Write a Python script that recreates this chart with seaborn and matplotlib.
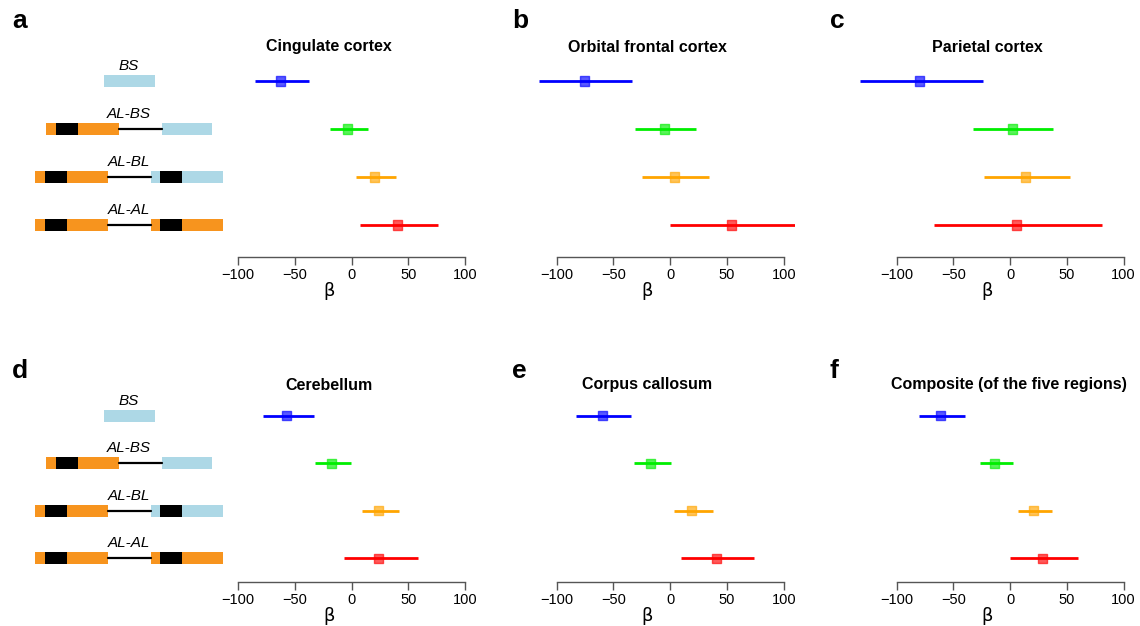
import numpy as np
import pandas as pd
import matplotlib
matplotlib.use("Agg")
import matplotlib.pyplot as plt
import seaborn as sns

sns.set_theme(style="white")
plt.rcParams['font.family'] = ['Liberation Sans', 'DejaVu Sans']
plt.rcParams['text.color'] = 'black'
plt.rcParams['axes.labelcolor'] = 'black'
plt.rcParams['xtick.labelcolor'] = 'black'

# genotypes, top to bottom
genotypes = ["BS", "AL-BS", "AL-BL", "AL-AL"]
point_colors = ["#0000FF", "#00EE00", "#FFA500", "#FF0000"]

regions = ["Cingulate cortex", "Orbital frontal cortex", "Parietal cortex",
           "Cerebellum", "Corpus callosum", "Composite (of the five regions)"]
panel_letters = ["a", "b", "c", "d", "e", "f"]

# beta estimates and 95% CI, one row per region (BS, AL-BS, AL-BL, AL-AL)
beta_est = [[-62.5, -3.8, 20.2, 40.2],
            [-75.6, -5.1, 3.4, 54.2],
            [-79.4, 1.8, 13.8, 5.6],
            [-57.2, -17.6, 23.8, 24.0],
            [-59.8, -17.5, 19.2, 40.4],
            [-61.5, -13.5, 20.6, 28.2]]
ci_low = [[-84.8, -19.1, 4.1, 7.6],
          [-115.6, -31.0, -24.5, 0.1],
          [-131.8, -32.4, -22.9, -66.8],
          [-78.3, -32.3, 9.1, -6.7],
          [-82.7, -32.2, 3.7, 9.5],
          [-80.3, -26.8, 6.8, -0.3]]
ci_high = [[-37.5, 14.7, 39.3, 76.0],
           [-33.3, 23.0, 33.9, 111.2],
           [-24.1, 38.2, 53.2, 80.9],
           [-32.8, -0.9, 41.9, 58.1],
           [-34.2, 0.4, 38.0, 74.0],
           [-39.7, 2.4, 37.4, 60.0]]

ORANGE = "#F7941E"
LBLUE = "#ADD8E6"
# schematic construct blocks: (start, end, colour) in pixel units of the left strip
constructs = {
    "BS": [(104, 155, LBLUE)],
    "AL-BS": [(46, 119, ORANGE), (56, 78, "black"), (162, 212, LBLUE)],
    "AL-BL": [(35, 108, ORANGE), (45, 67, "black"), (151, 223, LBLUE), (160, 182, "black")],
    "AL-AL": [(35, 108, ORANGE), (45, 67, "black"), (151, 223, ORANGE), (160, 182, "black")],
}
linkers = {"BS": None, "AL-BS": (119, 162), "AL-BL": (108, 151), "AL-AL": (108, 151)}

W, H = 1140, 626
fig = plt.figure(figsize=(W / 100, H / 100), dpi=100)

px_per_unit = 1.135
x_lo, x_hi = -150, 110
zero_px = [351.7, 670.2, 1010.0]
rows_cfg = [dict(row0=81.0, step=48.0, axis=257.3, title_y=47, letter_y=28),
            dict(row0=415.7, step=47.5, axis=581.7, title_y=385, letter_y=378)]
letter_x = [12, 512, 830]
y_top = -0.9


def frac_box(left_px, top_px, width_px, height_px):
    return [left_px / W, 1 - (top_px + height_px) / H, width_px / W, height_px / H]


for i, region in enumerate(regions):
    r, c = divmod(i, 3)
    cfg = rows_cfg[r]
    y_bot = (cfg["axis"] - cfg["row0"]) / cfg["step"]
    top_px = cfg["row0"] + y_top * cfg["step"]
    height_px = cfg["axis"] - top_px
    left_px = zero_px[c] + x_lo * px_per_unit
    width_px = (x_hi - x_lo) * px_per_unit

    ax = fig.add_axes(frac_box(left_px, top_px, width_px, height_px))
    ax.patch.set_alpha(0)
    df = pd.DataFrame({"genotype": genotypes, "y": np.arange(len(genotypes)),
                       "est": beta_est[i], "lo": ci_low[i], "hi": ci_high[i]})
    ax.hlines(df["y"], df["lo"], df["hi"], colors=point_colors, lw=2)
    sns.scatterplot(data=df, x="est", y="y", hue="genotype", palette=point_colors,
                    marker="s", s=42, edgecolor="face", linewidth=1.0, alpha=0.65,
                    legend=False, ax=ax, zorder=3)
    ax.set_xlim(x_lo, x_hi)
    ax.set_ylim(y_bot, y_top)
    for side in ["top", "right", "left"]:
        ax.spines[side].set_visible(False)
    ax.spines["bottom"].set_bounds(-100, 100)
    ax.spines["bottom"].set_color("#555555")
    ax.spines["bottom"].set_linewidth(1)
    ax.set_xticks([-100, -50, 0, 50, 100])
    ax.set_xticklabels(["\u2212100", "\u221250", "0", "50", "100"])
    ax.tick_params(axis="x", direction="out", length=6, width=1, color="#555555",
                   labelsize=10.5, labelcolor="black", pad=2, bottom=True)
    ax.set_yticks([])
    ax.set_xlabel("\u03b2", fontsize=13, labelpad=0, family="DejaVu Sans")
    ax.set_ylabel("")
    fig.text((zero_px[c] - 20 * px_per_unit) / W if i != 5 else 1009 / W,
             1 - cfg["title_y"] / H, region, ha="center", va="center",
             fontsize=11.5, fontweight="bold")
    fig.text(letter_x[c] / W, 1 - cfg["letter_y"] / H, panel_letters[i],
             ha="left", va="baseline", fontsize=19, fontweight="bold")

    # construct schematic on the left of the first column
    if c == 0:
        dax = fig.add_axes(frac_box(0, top_px, 240, height_px))
        dax.set_xlim(0, 240)
        dax.set_ylim(y_bot, y_top)
        dax.axis("off")
        for k, g in enumerate(genotypes):
            if linkers[g] is not None:
                dax.plot(linkers[g], [k, k], color="black", lw=1.6)
            for (s, e, col) in constructs[g]:
                dax.add_patch(plt.Rectangle((s, k - 0.125), e - s, 0.25,
                                            facecolor=col, edgecolor="none"))
            dax.text(129, k - 0.23, g, ha="center", va="baseline",
                     fontsize=11, style="italic")

fig.savefig("out.png", dpi=100)
